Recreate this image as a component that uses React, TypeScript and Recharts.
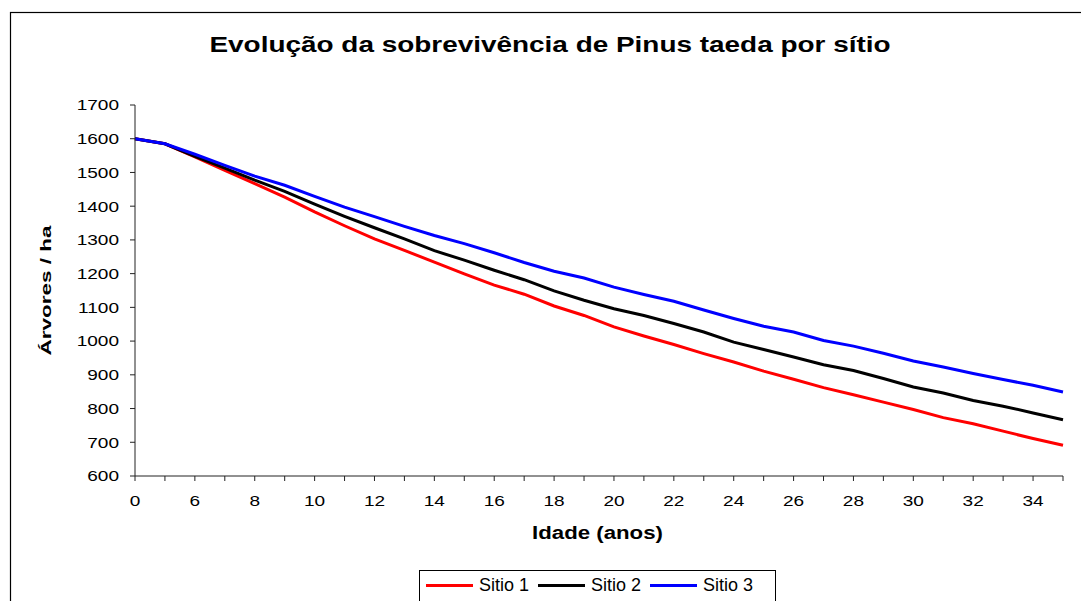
import { Legend, Line, LineChart, XAxis, YAxis, Label } from "recharts";

// idade (anos) - category axis, first point at 0 then 5..35
const ages = [0, 5, 6, 7, 8, 9, 10, 11, 12, 13, 14, 15, 16, 17, 18, 19, 20, 21, 22, 23, 24, 25, 26, 27, 28, 29, 30, 31, 32, 33, 34, 35];

// árvores / ha per sítio
const sitio1 = [1600, 1585, 1546, 1506, 1467, 1427, 1383, 1342, 1303, 1269, 1234, 1199, 1166, 1139, 1104, 1076, 1042, 1015, 990, 963, 938, 911, 887, 862, 841, 819, 797, 773, 755, 733, 711, 691];
const sitio2 = [1600, 1585, 1548, 1513, 1477, 1444, 1406, 1370, 1336, 1303, 1268, 1240, 1210, 1182, 1149, 1121, 1096, 1076, 1052, 1027, 997, 975, 953, 930, 913, 889, 864, 846, 824, 807, 787, 767];
const sitio3 = [1600, 1585, 1554, 1521, 1489, 1462, 1429, 1397, 1369, 1340, 1313, 1289, 1262, 1233, 1207, 1187, 1160, 1138, 1118, 1092, 1067, 1044, 1027, 1002, 985, 964, 941, 923, 904, 886, 869, 849];

const yTicks = [600, 700, 800, 900, 1000, 1100, 1200, 1300, 1400, 1500, 1600, 1700];

const seriesNames = ["Sitio 1", "Sitio 2", "Sitio 3"];
const seriesColors = ["#ff0000", "#000000", "#0000ff"];

const FONT = "Arial, 'Liberation Sans', sans-serif";
const STRETCH = 1.27;

const data = ages.map((age, i) => ({
    age,
    s1: sitio1[i],
    s2: sitio2[i],
    s3: sitio3[i],
}));

function YTick({ x, y, payload }: any) {
    return (
        <g transform={`translate(${x},${y})`}>
            <text transform={`scale(${STRETCH},1)`} textAnchor="end" dy="0.355em" fontSize={15} fontFamily={FONT} fill="#000">
                {payload.value}
            </text>
        </g>
    );
}

function XTick({ x, y, payload, index }: any) {
    const i = index ?? payload.index;
    if (i % 2 === 1) return null;
    return (
        <g transform={`translate(${x},${y})`}>
            <text transform={`scale(${STRETCH},1)`} textAnchor="middle" dy="0.71em" fontSize={15} fontFamily={FONT} fill="#000">
                {payload.value}
            </text>
        </g>
    );
}

function renderLegend({ payload }: any) {
    return (
        <div
            style={{
                border: "1px solid #000",
                boxSizing: "border-box",
                height: 40,
                display: "flex",
                alignItems: "center",
                paddingLeft: 6,
                paddingBottom: 10,
                fontFamily: FONT,
                fontSize: 18,
                color: "#000",
            }}
        >
            {(payload || []).map((entry: any) => (
                <div key={entry.value} style={{ display: "flex", alignItems: "center", marginRight: 9 }}>
                    <span style={{ display: "inline-block", width: 47, height: 3, background: entry.color, marginRight: 6 }} />
                    <span style={{ lineHeight: "20px" }}>{entry.value}</span>
                </div>
            ))}
        </div>
    );
}

export default function App() {
    return (
        <div style={{ position: "relative", width: 1081, height: 601, background: "#fff", overflow: "hidden" }}>
            <style>{`body{margin:0;overflow:hidden;background:#fff}`}</style>
            <LineChart
                width={1081}
                height={601}
                data={data}
                margin={{ top: 105, right: 18, bottom: 65, left: 0 }}
            >
                <XAxis
                    dataKey="age"
                    type="category"
                    interval={0}
                    height={60}
                    tickSize={5}
                    tickMargin={14}
                    tick={<XTick />}
                    stroke="#222"
                    axisLine={{ stroke: "#222" }}
                    tickLine={{ stroke: "#222" }}
                >
                    <Label
                        content={({ viewBox }: any) => (
                            <g transform={`translate(${viewBox.x + viewBox.width / 2 - 1.5},${viewBox.y + 63})`}>
                                <text transform={`scale(${STRETCH},1)`} textAnchor="middle" fontSize={17.5} fontWeight="bold" fontFamily={FONT} fill="#000">
                                    Idade (anos)
                                </text>
                            </g>
                        )}
                    />
                </XAxis>
                <YAxis
                    domain={[600, 1700]}
                    ticks={yTicks}
                    interval={0}
                    width={135}
                    tickSize={5}
                    tickMargin={11}
                    tick={<YTick />}
                    stroke="#222"
                    axisLine={{ stroke: "#222" }}
                    tickLine={{ stroke: "#222" }}
                >
                    <Label
                        content={({ viewBox }: any) => (
                            <g transform={`translate(${viewBox.x + 51},${viewBox.y + viewBox.height / 2}) rotate(-90) scale(1.45,1)`}>
                                <text textAnchor="middle" fontSize={15.5} fontWeight="bold" fontFamily={FONT} fill="#000">
                                    Árvores / ha
                                </text>
                            </g>
                        )}
                    />
                </YAxis>
                <Legend
                    layout="horizontal"
                    verticalAlign="middle"
                    align="center"
                    width={357}
                    wrapperStyle={{ left: 419, top: 570, width: 357 }}
                    content={renderLegend}
                />
                <Line type="linear" dataKey="s1" name={seriesNames[0]} stroke={seriesColors[0]} strokeWidth={3} dot={false} isAnimationActive={false} />
                <Line type="linear" dataKey="s2" name={seriesNames[1]} stroke={seriesColors[1]} strokeWidth={3} dot={false} isAnimationActive={false} />
                <Line type="linear" dataKey="s3" name={seriesNames[2]} stroke={seriesColors[2]} strokeWidth={3} dot={false} isAnimationActive={false} />
            </LineChart>
            <svg width={1081} height={601} style={{ position: "absolute", left: 0, top: 0, pointerEvents: "none" }}>
                <rect x={10.5} y={12.5} width={1200} height={700} fill="none" stroke="#000" strokeWidth={1.2} />
                <g transform="translate(550,52)">
                    <text transform={`scale(${STRETCH},1)`} textAnchor="middle" fontSize={22} fontWeight="bold" fontFamily={FONT} fill="#000">
                        Evolução da sobrevivência de Pinus taeda por sítio
                    </text>
                </g>
            </svg>
        </div>
    );
}
